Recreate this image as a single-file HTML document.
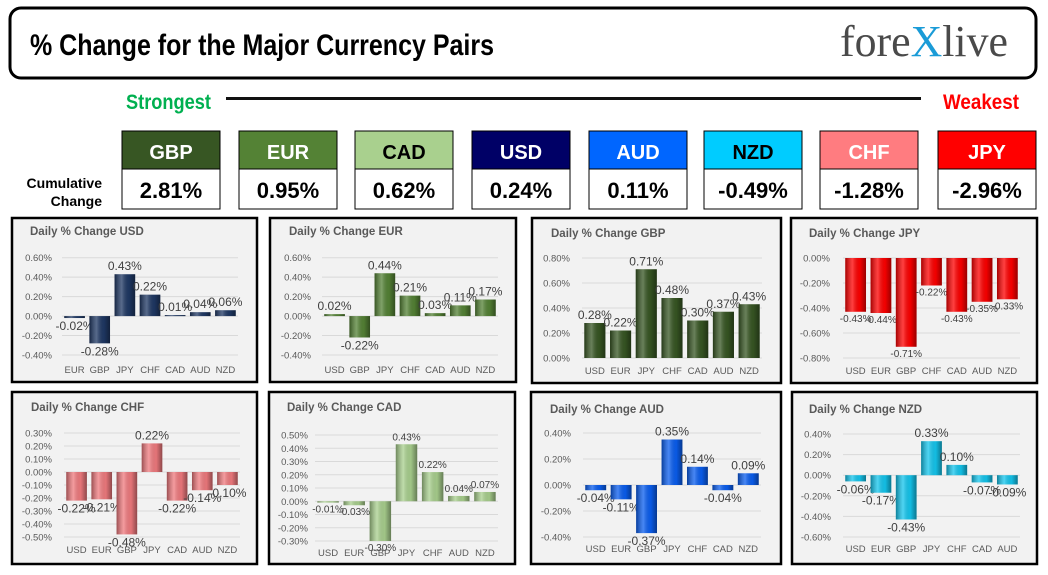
<!DOCTYPE html>
<html><head><meta charset="utf-8"><style>
html,body{margin:0;padding:0;background:#fff;width:1048px;height:575px;overflow:hidden}
svg{display:block}
.imp{font-family:"Liberation Sans Narrow","Liberation Sans",sans-serif;font-weight:bold}
.cal{font-family:"Liberation Sans",sans-serif}
</style></head><body>
<svg id="root" width="1048" height="575" viewBox="0 0 1048 575" xmlns="http://www.w3.org/2000/svg">
<defs>
<linearGradient id="shade" x1="0" y1="0" x2="1" y2="0">
<stop offset="0" stop-color="#000" stop-opacity="0.35"/>
<stop offset="0.35" stop-color="#fff" stop-opacity="0.25"/>
<stop offset="0.7" stop-color="#000" stop-opacity="0.05"/>
<stop offset="1" stop-color="#000" stop-opacity="0.4"/>
</linearGradient>
</defs>
<rect x="10" y="8" width="1026" height="70" rx="11" fill="#fff" stroke="#000" stroke-width="3"/>
<text class="imp" x="30" y="55" font-size="30" textLength="464" lengthAdjust="spacingAndGlyphs" fill="#000">% Change for the Major Currency Pairs</text>
<text x="840" y="56" font-size="44" textLength="168" lengthAdjust="spacingAndGlyphs" font-family="Liberation Serif, serif" fill="#4a4a4a">fore<tspan fill="#1a9bd7">X</tspan>live</text>
<text class="imp" x="126" y="109" font-size="21" textLength="85" lengthAdjust="spacingAndGlyphs" fill="#00b050">Strongest</text>
<rect x="226" y="97" width="695" height="3" fill="#111"/>
<text class="imp" x="943" y="109" font-size="21" textLength="76" lengthAdjust="spacingAndGlyphs" fill="#ff0000">Weakest</text>
<text class="imp" x="102" y="188" font-size="14" text-anchor="end" fill="#000">Cumulative</text>
<text class="imp" x="102" y="206" font-size="14" text-anchor="end" fill="#000">Change</text>
<g id="strip"></g>
<g id="charts"></g>
</svg>
<script>
const NS='http://www.w3.org/2000/svg';
const stripCur=['GBP','EUR','CAD','USD','AUD','NZD','CHF','JPY'];
const stripVals=[2.81,0.95,0.62,0.24,0.11,-0.49,-1.28,-2.96];
const usdCats=['EUR','GBP','JPY','CHF','CAD','AUD','NZD'];
const usdVals=[-0.02,-0.28,0.43,0.22,0.01,0.04,0.06];
const usdTicks=[0.6,0.4,0.2,0,-0.2,-0.4];
const eurCats=['USD','GBP','JPY','CHF','CAD','AUD','NZD'];
const eurVals=[0.02,-0.22,0.44,0.21,0.03,0.11,0.17];
const eurTicks=[0.6,0.4,0.2,0,-0.2,-0.4];
const gbpCats=['USD','EUR','JPY','CHF','CAD','AUD','NZD'];
const gbpVals=[0.28,0.22,0.71,0.48,0.30,0.37,0.43];
const gbpTicks=[0.8,0.6,0.4,0.2,0];
const jpyCats=['USD','EUR','GBP','CHF','CAD','AUD','NZD'];
const jpyVals=[-0.43,-0.44,-0.71,-0.22,-0.43,-0.35,-0.33];
const jpyTicks=[0,-0.2,-0.4,-0.6,-0.8];
const chfCats=['USD','EUR','GBP','JPY','CAD','AUD','NZD'];
const chfVals=[-0.22,-0.21,-0.48,0.22,-0.22,-0.14,-0.10];
const chfTicks=[0.3,0.2,0.1,0,-0.1,-0.2,-0.3,-0.4,-0.5];
const cadCats=['USD','EUR','GBP','JPY','CHF','AUD','NZD'];
const cadVals=[-0.01,-0.03,-0.30,0.43,0.22,0.04,0.07];
const cadTicks=[0.5,0.4,0.3,0.2,0.1,0,-0.1,-0.2,-0.3];
const audCats=['USD','EUR','GBP','JPY','CHF','CAD','NZD'];
const audVals=[-0.04,-0.11,-0.37,0.35,0.14,-0.04,0.09];
const audTicks=[0.4,0.2,0,-0.2,-0.4];
const nzdCats=['USD','EUR','GBP','JPY','CHF','CAD','AUD'];
const nzdVals=[-0.06,-0.17,-0.43,0.33,0.10,-0.07,-0.09];
const nzdTicks=[0.4,0.2,0,-0.2,-0.4,-0.6];

function mk(tag,attrs,parent,txt){const e=document.createElementNS(NS,tag);for(const k in attrs)e.setAttribute(k,attrs[k]);if(txt!==undefined)e.textContent=txt;parent.appendChild(e);return e;}

// strip
const stripColors=['#375623','#548235','#a9d08e','#000066','#0066ff','#00ccff','#ff7c80','#ff0000'];
const stripText=['#fff','#fff','#000','#fff','#fff','#000','#fff','#fff'];
const stripX=[122,239,355,472,589,704,820,938];
const strip=document.getElementById('strip');
stripCur.forEach((c,i)=>{
  const x=stripX[i];
  const g=mk('g',{},strip);
  
  
  const h=mk('rect',{x:x,y:131,width:98,height:38,fill:stripColors[i],stroke:'#000','stroke-width':1},g);
  
  
  const b=mk('rect',{x:x,y:169,width:98,height:40,fill:'#fff',stroke:'#000','stroke-width':1},g);
  
  
  const t=mk('text',{x:x+49,y:159,'text-anchor':'middle','font-size':20,fill:stripText[i],class:'imp'},g,c);
  
  
  const v=mk('text',{x:x+49,y:198,'text-anchor':'middle','font-size':22,fill:'#000',class:'imp'},g,stripVals[i].toFixed(2)+'%');
  
  
});

const panels=[
 {id:'usd',title:'Daily % Change USD',cats:usdCats,vals:usdVals,ticks:usdTicks,color:'#1f3864',box:[12,218,245,164],tx:30,ty:235,yT:257.7,yB:355,pl:62,pr:238,tr:52,ly:373,fs:12},
 {id:'eur',title:'Daily % Change EUR',cats:eurCats,vals:eurVals,ticks:eurTicks,color:'#548235',box:[270,218,246,164],tx:289,ty:235,yT:257.7,yB:355,pl:322,pr:498,tr:311,ly:373,fs:12},
 {id:'gbp',title:'Daily % Change GBP',cats:gbpCats,vals:gbpVals,ticks:gbpTicks,color:'#375623',box:[532,218,249,165],tx:551,ty:237,yT:258,yB:358,pl:582,pr:762,tr:570,ly:374,fs:12},
 {id:'jpy',title:'Daily % Change JPY',cats:jpyCats,vals:jpyVals,ticks:jpyTicks,color:'#ff0000',box:[791,218,246,165],tx:809,ty:237,yT:258,yB:358,pl:843,pr:1020,tr:830,ly:374,fs:10},
 {id:'chf',title:'Daily % Change CHF',cats:chfCats,vals:chfVals,ticks:chfTicks,color:'#f07a7e',box:[12,392,245,172],tx:31,ty:411,yT:433,yB:537,pl:64,pr:240,tr:52,ly:553,fs:12},
 {id:'cad',title:'Daily % Change CAD',cats:cadCats,vals:cadVals,ticks:cadTicks,color:'#a9d08e',box:[269,392,246,172],tx:287,ty:411,yT:435,yB:541,pl:315,pr:498,tr:308,ly:556,fs:10},
 {id:'aud',title:'Daily % Change AUD',cats:audCats,vals:audVals,ticks:audTicks,color:'#0a5ef0',box:[531,392,250,172],tx:550,ty:413,yT:433,yB:537,pl:583,pr:761,tr:571,ly:552,fs:12},
 {id:'nzd',title:'Daily % Change NZD',cats:nzdCats,vals:nzdVals,ticks:nzdTicks,color:'#14c6ee',box:[792,392,245,172],tx:809,ty:413,yT:434,yB:537,pl:843,pr:1020,tr:831,ly:552,fs:12}
];
const charts=document.getElementById('charts');
panels.forEach(p=>{
  const g=mk('g',{},charts);
  
  
  const [bx,by,bw,bh]=p.box;
  const bg=mk('rect',{x:bx,y:by,width:bw,height:bh,fill:'#f2f2f2',stroke:'#000','stroke-width':2.5},g);
  
  
  const t=mk('text',{x:p.tx,y:p.ty,'font-size':11.5,'font-weight':'bold',fill:'#595959',class:'cal'},g,p.title);
  
  
  const tmax=Math.max(...p.ticks),tmin=Math.min(...p.ticks);
  const y=v=>p.yT+(tmax-v)/(tmax-tmin)*(p.yB-p.yT);
  const band=(p.pr-p.pl)/p.cats.length;
  const xc=i=>p.pl+band*(i+0.5);
  p.ticks.forEach(tv=>{
    const gl=mk('line',{x1:p.pl,x2:p.pr,y1:y(tv),y2:y(tv),stroke:'#d9d9d9','stroke-width':1},g);
    
    
    const tl=mk('text',{x:p.tr,y:y(tv)+3.5,'text-anchor':'end','font-size':9.5,fill:'#595959',class:'cal'},g,tv.toFixed(2)+'%');
    
    
  });
  const bw2=band*0.82;
  p.vals.forEach((v,i)=>{
    const y0=y(0),y1=y(v);
    const top=Math.min(y0,y1),hh=Math.max(Math.abs(y1-y0),1);
    const r=mk('rect',{x:xc(i)-bw2/2,y:top,width:bw2,height:hh,fill:p.color},g);
    
    
    const s=mk('rect',{x:xc(i)-bw2/2,y:top,width:bw2,height:hh,fill:'url(#shade)'},g);
    
    
    const ly=v>=0?top-4:top+hh+p.fs;
    const dl=mk('text',{x:xc(i),y:ly,'text-anchor':'middle','font-size':p.fs,fill:'#404040',class:'cal'},g,v.toFixed(2)+'%');
    
    
    const cl=mk('text',{x:xc(i),y:p.ly,'text-anchor':'middle','font-size':9.5,fill:'#595959',class:'cal'},g,p.cats[i]);
    
    
  });
});
</script>
</body></html>
